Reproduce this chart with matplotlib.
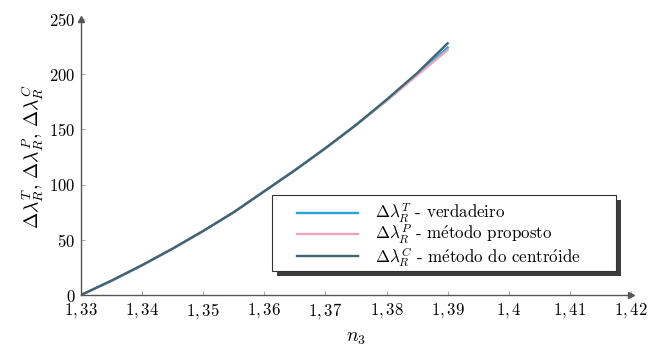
import numpy as np
import matplotlib.pyplot as plt
from matplotlib.patches import Rectangle
from matplotlib.transforms import offset_copy

plt.rcParams['mathtext.fontset'] = 'cm'
plt.rcParams['font.family'] = ['cmr10', 'DejaVu Serif']
plt.rcParams['axes.formatter.use_mathtext'] = True

# refractive index of the outer medium
n3 = [1.330, 1.335, 1.340, 1.345, 1.350, 1.355, 1.360,
      1.365, 1.370, 1.375, 1.380, 1.385, 1.390]

# resonance shift (nm) for each method
dl_true = [0, 13, 27, 42, 58, 75, 94, 113, 133, 154, 176, 200, 224]
dl_prop = [0, 13, 27, 42, 58, 75, 94, 113, 133, 154, 176, 199, 222]
dl_cent = [0, 13, 27, 42, 58, 75, 94, 113, 133, 154, 177, 201, 228]

xticks = [1.33, 1.34, 1.35, 1.36, 1.37, 1.38, 1.39, 1.40, 1.41, 1.42]
xtick_labels = ['1,33', '1,34', '1,35', '1,36', '1,37', '1,38', '1,39', '1,4', '1,41', '1,42']
yticks = [0, 50, 100, 150, 200, 250]

ea = r'$\mathrm{\acute{e}}$'
oa = r'$\mathrm{\acute{o}}$'
labels = [r'$\Delta\lambda_R^T$ - verdadeiro',
          r'$\Delta\lambda_R^P$ - m' + ea + 'todo proposto',
          r'$\Delta\lambda_R^C$ - m' + ea + 'todo do centr' + oa + 'ide']

fig = plt.figure(figsize=(6.56, 3.5), dpi=100)
ax = fig.add_axes([81 / 656, 55 / 350, 550 / 656, 276 / 350])

ax.plot(n3, dl_true, color='#2aa4dc', lw=1.7, label=labels[0])
ax.plot(n3, dl_prop, color='#e8a4b8', lw=1.7, label=labels[1])
ax.plot(n3, dl_cent, color='#3f6574', lw=1.7, label=labels[2])

ax.set_xlim(1.33, 1.42)
ax.set_ylim(0, 250)
ax.set_xticks(xticks)
ax.set_xticklabels(['$' + s + '$' for s in xtick_labels], fontsize=12)
ax.set_yticks(yticks)
ax.set_yticklabels(['$%d$' % v for v in yticks], fontsize=12)
ax.tick_params(direction='in', length=3, width=0.6, color='#999999', pad=4)

for side in ['top', 'right']:
    ax.spines[side].set_visible(False)
for side in ['left', 'bottom']:
    ax.spines[side].set_color('#555555')
    ax.spines[side].set_linewidth(1.0)

# arrow heads at the ends of the axes
ax.plot(1, 0, '>', color='#555555', ms=4, transform=ax.transAxes, clip_on=False)
ax.plot(0, 1, '^', color='#555555', ms=4, transform=ax.transAxes, clip_on=False)

ax.set_xlabel(r'$n_3$', fontsize=14, labelpad=6)
ax.set_ylabel(r'$\Delta\lambda_R^T,\,\Delta\lambda_R^P,\,\Delta\lambda_R^C$', fontsize=14, labelpad=2)

# legend frame with a drop shadow
box = (0.347, 0.087, 0.626, 0.275)
shadow_tr = offset_copy(ax.transAxes, fig=fig, x=5, y=-5, units='dots')
ax.add_patch(Rectangle(box[:2], box[2], box[3], transform=shadow_tr, facecolor='#3c3c3c',
                       edgecolor='none', clip_on=False, zorder=4))
ax.add_patch(Rectangle(box[:2], box[2], box[3], transform=ax.transAxes, facecolor='white',
                       edgecolor='#333333', lw=0.8, clip_on=False, zorder=5))

leg = ax.legend(loc='center left', bbox_to_anchor=(0.393, 0.217), borderaxespad=0,
                borderpad=0, fontsize=12.2, handlelength=3.6, handletextpad=1.0,
                labelspacing=-0.1, frameon=False)
leg.set_zorder(6)

fig.savefig('out.png', dpi=100)
